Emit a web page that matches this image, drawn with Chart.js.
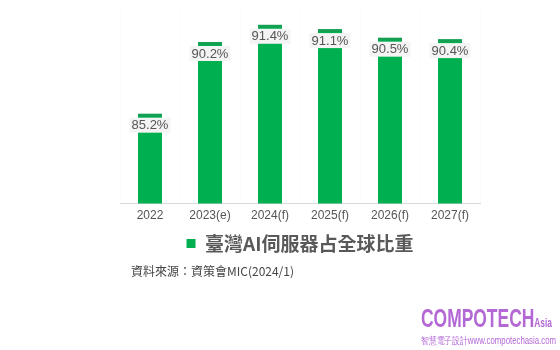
<!DOCTYPE html>
<html>
<head>
<meta charset="utf-8">
<script src="https://cdn.jsdelivr.net/npm/chart.js@4"></script>
<style>
  html, body { margin: 0; padding: 0; background: #fff; }
  #wrap { position: relative; width: 560px; height: 350px; }
  #source {
    position: absolute; left: 131px; top: 262px;
    font: 12px "Noto Sans CJK TC", "Noto Sans", sans-serif; color: #444;
  }
  #brand {
    position: absolute; left: 421px; top: 306px; color: #b368d6;
    font-family: "Liberation Sans", Arial, sans-serif;
    white-space: nowrap; line-height: 1;
  }
  #brand .line { display: inline-block; transform-origin: 0 0; }
  #brand .big { font-size: 25px; font-weight: bold; }
  #brand .asia { font-size: 12px; font-weight: bold; }
  #brand .sub { font-size: 10px; margin-top: 2px; }
</style>
</head>
<body>
<div id="wrap">
  <canvas id="chart" width="560" height="350"></canvas>
  <div id="source">資料來源：資策會MIC(2024/1)</div>
  <div id="brand">
    <div class="line" data-w="131"><span class="big">COMPOTECH</span><span class="asia">Asia</span></div><br>
    <div class="line sub" data-w="135">智慧電子設計www.compotechasia.com</div>
  </div>
</div>
<script>
const years = ["2022", "2023(e)", "2024(f)", "2025(f)", "2026(f)", "2027(f)"];
const shares = [85.2, 90.2, 91.4, 91.1, 90.5, 90.4];
const seriesName = "臺灣AI伺服器占全球比重";

const barGreen = "#00b050";
const capGreen = "#13a052";

// squeeze the brand lines into a condensed look
document.querySelectorAll("#brand .line").forEach((el) => {
  const s = Number(el.dataset.w) / el.getBoundingClientRect().width;
  el.style.transform = "scaleX(" + s + ")";
});

// dash on top of each bar plus the value label sitting just under it
const barCaps = {
  id: "barCaps",
  afterDatasetsDraw(chart) {
    const ctx = chart.ctx;
    const meta = chart.getDatasetMeta(0);
    ctx.save();
    ctx.font = "13px 'Liberation Sans', Arial, sans-serif";
    ctx.textAlign = "center";
    ctx.textBaseline = "middle";
    meta.data.forEach((bar, i) => {
      const label = shares[i].toFixed(1) + "%";
      const w = ctx.measureText(label).width + 4;
      ctx.fillStyle = "#f4f4f4";
      ctx.fillRect(bar.x - w / 2, bar.y + 3, w, 15);
      ctx.fillStyle = capGreen;
      ctx.fillRect(bar.x - bar.width / 2, bar.y - 1, bar.width, 3);
      ctx.fillStyle = "#555";
      ctx.fillText(label, bar.x, bar.y + 11);
    });
    ctx.restore();
  }
};

new Chart(document.getElementById("chart"), {
  type: "bar",
  data: {
    labels: years,
    datasets: [
      {
        label: seriesName,
        data: shares,
        backgroundColor: barGreen,
        borderWidth: 0,
        barPercentage: 0.4,
        categoryPercentage: 1,
      },
    ],
  },
  options: {
    responsive: false,
    animation: false,
    layout: { padding: { left: 120, right: 80, top: 10, bottom: 87 } },
    scales: {
      y: { display: false, min: 79, max: 92.5 },
      x: {
        grid: { color: "#fbfbfb", drawTicks: false },
        border: { color: "#d9d9d9" },
        ticks: {
          padding: 5,
          color: "#555",
          font: { size: 12, family: "'Liberation Sans', Arial, sans-serif" },
        },
      },
    },
    plugins: {
      legend: {
        position: "bottom",
        onClick: null,
        labels: {
          boxWidth: 9,
          boxHeight: 9,
          padding: 6,
          color: "#595959",
          font: { size: 19, weight: "bold", family: "'Noto Sans CJK TC', sans-serif" },
        },
      },
      tooltip: { enabled: false },
    },
  },
  plugins: [barCaps],
});
</script>
</body>
</html>
